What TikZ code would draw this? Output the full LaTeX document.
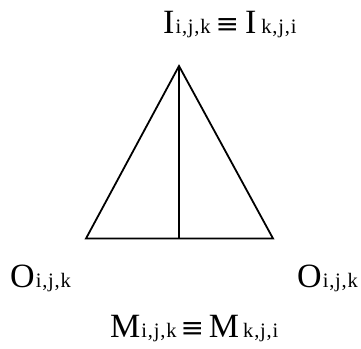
\documentclass[tikz,border=0pt]{standalone}
\usepackage{fontspec}
\setmainfont{Liberation Serif}
\newfontfamily\symfont{DejaVu Serif}
\newcommand{\cm}{\kern0.8pt,\kern0.8pt}
\newcommand{\sbs}[1]{\raisebox{-0.02em}{\fontsize{20.5}{20.5}\selectfont #1}}
\newcommand{\eqv}{{\symfont\fontsize{28}{28}\selectfont ≡}}
\begin{document}
\begin{tikzpicture}[x=1pt,y=-1pt,
  lbl/.style={inner sep=0pt, font=\fontsize{34}{34}\selectfont, anchor=base west},
  edge/.style={line width=1.8pt, line join=miter}]
\useasboundingbox (0,0) rectangle (361,348);
\coordinate (apex) at (179,66);
\coordinate (bl) at (86,238.5);
\coordinate (br) at (273,238.5);
\coordinate (bm) at (179,238.5);
\draw[edge] (apex) -- (bl) -- (br) -- cycle;
\draw[edge] (apex) -- (bm);
\node[lbl] (top) at (163,33) {I\kern1pt\sbs{i\cm j\cm k}\kern5pt\eqv\kern6pt I\kern5pt\sbs{k\cm j\cm i}};
\node[lbl] (ol) at (10,287) {O\kern1pt\sbs{i\cm j\cm k}};
\node[lbl] (or) at (297,287) {O\kern1pt\sbs{i\cm j\cm k}};
\node[lbl] (bot) at (110,337) {M\kern1pt\sbs{i\cm j\cm k}\kern4pt\eqv\kern5pt M\kern4pt\sbs{k\cm j\cm i}};
\end{tikzpicture}
\end{document}
